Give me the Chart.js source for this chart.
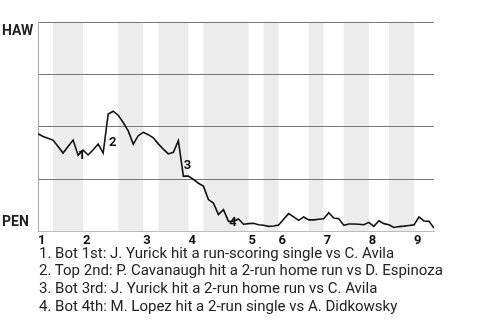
<!DOCTYPE html>
<html>
<head>
<meta charset="utf-8">
<script src="https://cdn.jsdelivr.net/npm/chart.js@4/dist/chart.umd.min.js"></script>
<style>
  html, body { margin: 0; padding: 0; background: #fff; }
  #wrap { position: relative; width: 480px; height: 251px; }
  #notes {
    position: absolute; left: 39px; top: 244.5px;
    font-family: Roboto, sans-serif; font-size: 15px; line-height: 17.7px; color: #222;
    white-space: nowrap;
  }
</style>
</head>
<body>
<div id="wrap"><canvas id="wpChart"></canvas></div>
<div id="notes"></div>
<script>
// win probability for HAW (0 = PEN wins, 100 = HAW wins), one value per plate appearance
const winProb = [
  46.6, 45.3, 44.5, 43.6, 40.5, 37.4, 40.5, 43.6, 36.4, 38.8,
  36.5, 39.0, 41.7, 37.4, 56.1, 57.4, 55.5, 52.0, 48.0, 41.7,
  45.7, 47.3, 46.2, 44.7, 41.8, 39.3, 37.0, 37.8, 43.3, 26.4,
  26.4, 24.8, 23.0, 21.6, 15.2, 13.5, 8.0, 10.4, 4.8, 4.8,
  5.9, 3.4, 3.7, 3.9, 3.2, 2.9, 2.4, 2.6, 3.0, 5.8,
  8.5, 6.9, 5.3, 6.9, 5.5, 5.5, 5.8, 6.0, 8.9, 6.4,
  6.1, 2.9, 3.5, 3.5, 3.4, 3.2, 4.3, 2.4, 5.1, 3.7,
  3.2, 1.9, 2.3, 2.5, 2.8, 3.1, 6.9, 5.0, 4.8, 1.6
];

// play index where each inning starts, and its label
const inningStarts = [0, 9, 21, 30, 42, 48, 57, 66, 75];
const inningLabels = ['1', '2', '3', '4', '5', '6', '7', '8', '9'];

// bottom halves of innings (shaded)
const bottomStarts = [3, 16, 24, 33, 45, 54, 61, 70];
const bottomEnds = [9, 21, 30, 42, 48, 57, 66, 75];

// key plays marked on the line
const keyLabels = ['1', '2', '3', '4'];
const keyX = [8.7, 14.9, 29.8, 38.9];
const keyY = [36.0, 42.5, 31.5, 4.3];
const keyNotes = [
  '1. Bot 1st: J. Yurick hit a run-scoring single vs C. Avila',
  '2. Top 2nd: P. Cavanaugh hit a 2-run home run vs D. Espinoza',
  '3. Bot 3rd: J. Yurick hit a 2-run home run vs C. Avila',
  '4. Bot 4th: M. Lopez hit a 2-run single vs A. Didkowsky'
];

const teamTop = 'HAW';
const teamBottom = 'PEN';
const yTicks = [0, 25, 50, 75, 100];

document.getElementById('notes').innerHTML = keyNotes.map(t => '<div>' + t + '</div>').join('');

const shadePlugin = {
  id: 'shade',
  beforeDraw(chart) {
    const { ctx, chartArea, scales } = chart;
    ctx.save();
    ctx.fillStyle = '#ececec';
    bottomStarts.forEach((s, i) => {
      const x0 = scales.x.getPixelForValue(s);
      const x1 = scales.x.getPixelForValue(bottomEnds[i]);
      ctx.fillRect(x0, chartArea.top, x1 - x0, chartArea.bottom - chartArea.top);
    });
    ctx.restore();
  },
  afterDatasetsDraw(chart) {
    const { ctx, scales } = chart;
    ctx.save();
    ctx.fillStyle = '#111';
    ctx.font = "bold 13px Roboto, sans-serif";
    ctx.textAlign = 'center';
    ctx.textBaseline = 'middle';
    keyLabels.forEach((t, i) => {
      ctx.fillText(t, scales.x.getPixelForValue(keyX[i]), scales.y.getPixelForValue(keyY[i]));
    });
    // team names on the left side
    ctx.fillStyle = '#222';
    ctx.font = "bold 14px Roboto, sans-serif";
    ctx.textAlign = 'left';
    ctx.textBaseline = 'top';
    ctx.fillText(teamTop, 2, scales.y.getPixelForValue(100) + 2);
    ctx.textBaseline = 'bottom';
    ctx.fillText(teamBottom, 2, scales.y.getPixelForValue(0) - 2);
    ctx.restore();
  }
};

const ctx = document.getElementById('wpChart').getContext('2d');

new Chart(ctx, {
  type: 'line',
  data: {
    datasets: [{
      data: winProb.map((v, i) => ({ x: i, y: v })),
      borderColor: '#111',
      borderWidth: 1.6,
      pointRadius: 0,
      tension: 0,
      fill: false
    }]
  },
  options: {
    responsive: true,
    maintainAspectRatio: false,
    animation: false,
    layout: { padding: { left: 38, right: 46, top: 22, bottom: 0 } },
    plugins: {
      legend: { display: false },
      tooltip: { enabled: false }
    },
    scales: {
      x: {
        type: 'linear',
        min: 0,
        max: winProb.length - 1,
        grid: { display: false, drawTicks: false },
        border: { display: true, color: '#bbb', width: 1 },
        afterBuildTicks: (scale) => {
          scale.ticks = inningStarts.map(v => ({ value: v }));
        },
        ticks: {
          autoSkip: false,
          maxRotation: 0,
          align: 'start',
          padding: 2,
          color: '#111',
          font: { family: 'Roboto, sans-serif', size: 13, weight: 'bold' },
          callback: (value) => inningLabels[inningStarts.indexOf(value)]
        }
      },
      y: {
        min: 0,
        max: 100,
        afterBuildTicks: (scale) => {
          scale.ticks = yTicks.map(v => ({ value: v }));
        },
        ticks: { display: false },
        grid: {
          drawTicks: false,
          color: (c) => (c.tick && c.tick.value === 0) ? '#bbb' : '#777',
          lineWidth: 1
        },
        border: { display: true, color: '#aaa', width: 1 }
      }
    }
  },
  plugins: [shadePlugin]
});
</script>
</body>
</html>
